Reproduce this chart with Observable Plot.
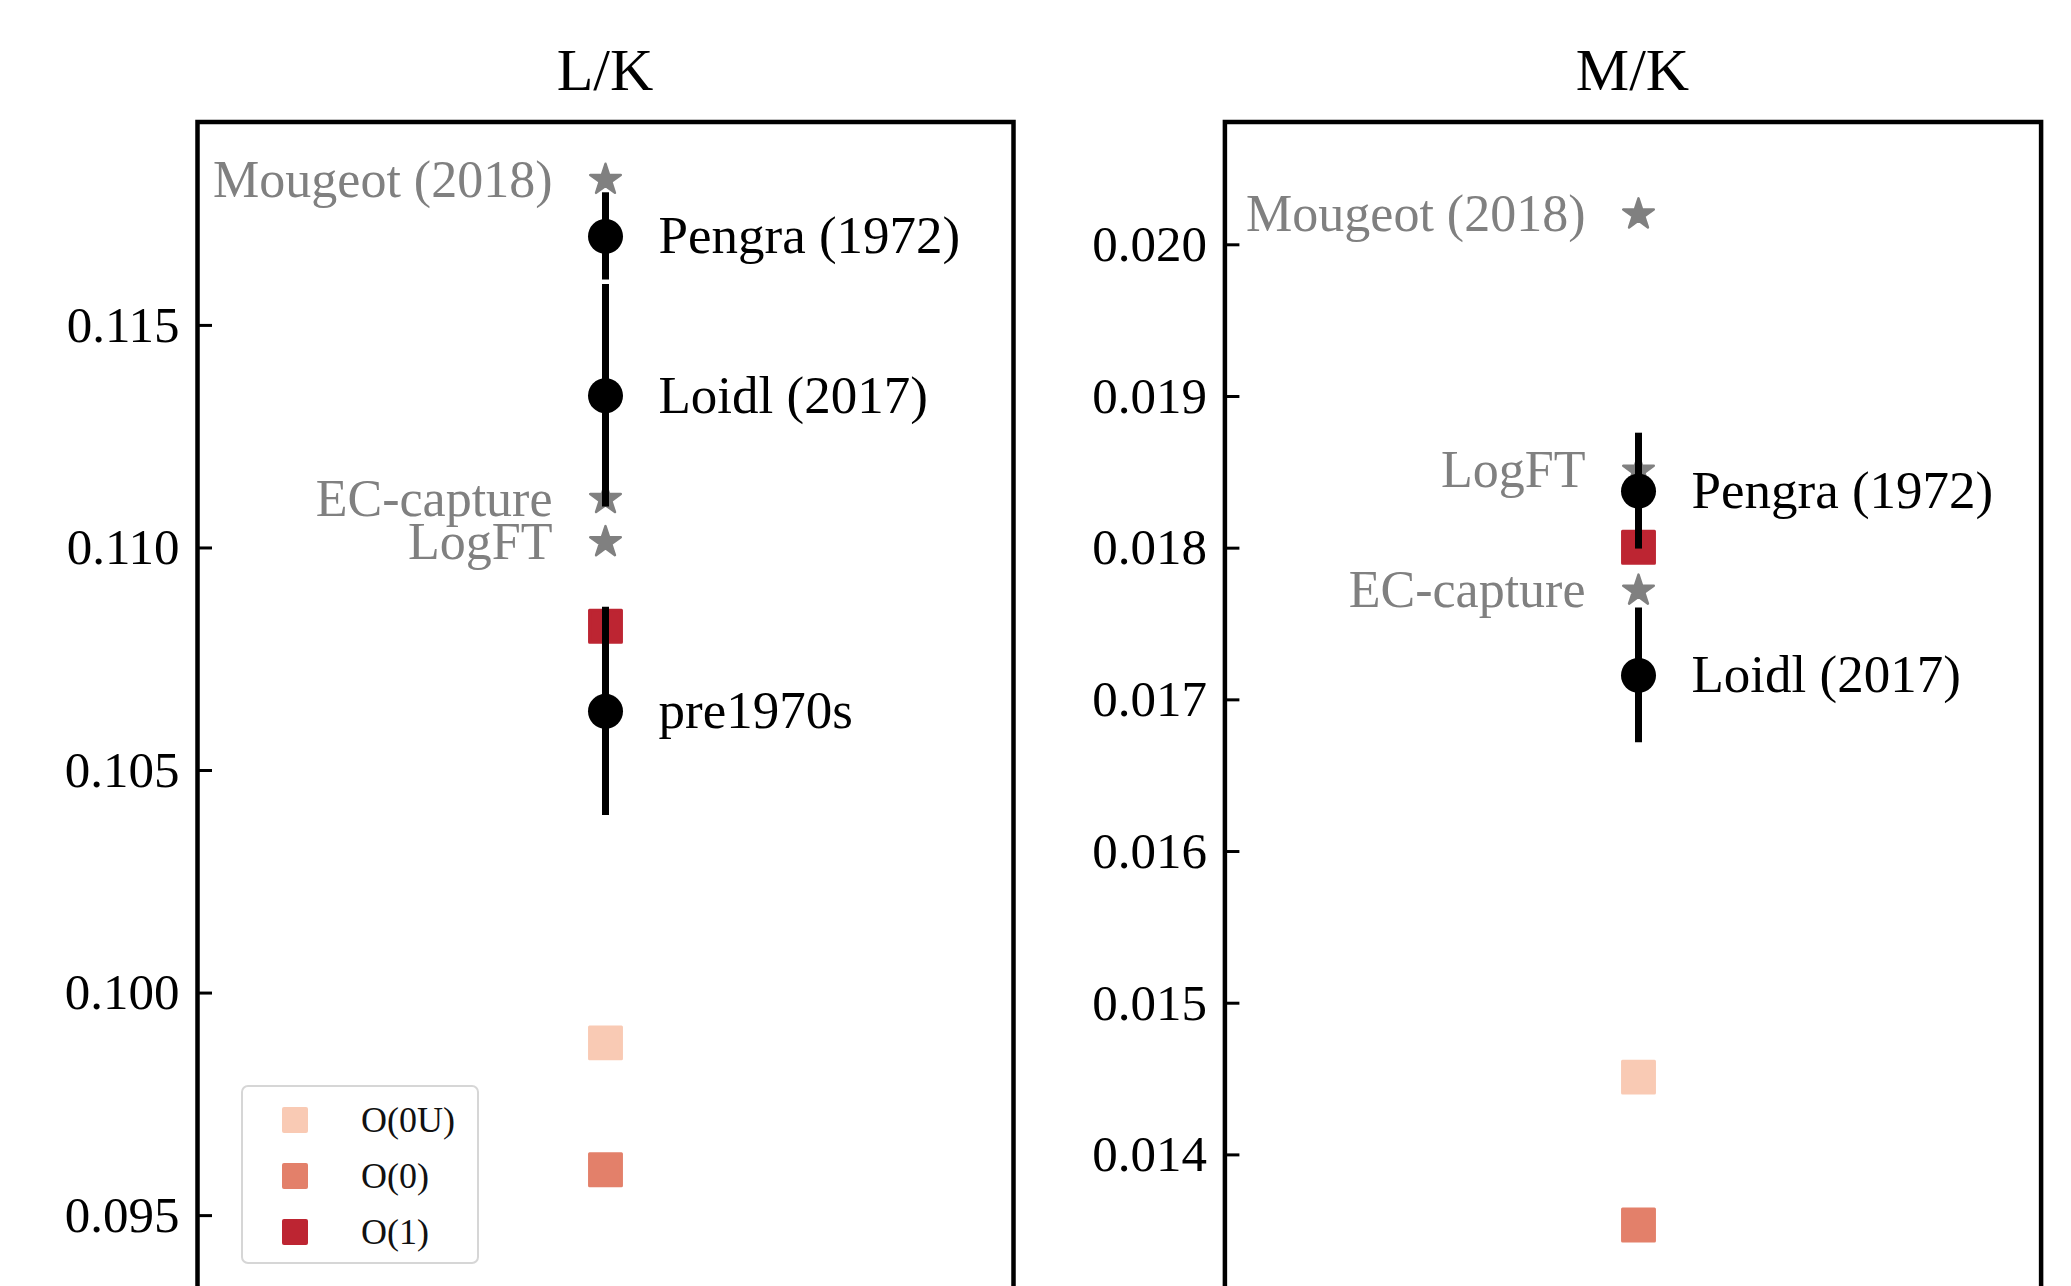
<!DOCTYPE html>
<html><head><meta charset="utf-8">
<script src="https://cdn.jsdelivr.net/npm/d3@7"></script>
<script src="https://cdn.jsdelivr.net/npm/@observablehq/plot@0.6"></script>
<style>
html,body{margin:0;padding:0;background:#fff;overflow:hidden}
#root{position:relative;width:2071px;height:1286px;overflow:hidden;font-family:"Liberation Serif",serif;background:#fff}
.panel{position:absolute;top:0}
.title{position:absolute;top:40px;height:60px;line-height:60px;font-size:60px;text-align:center;color:#000;white-space:nowrap}
.legend{position:absolute;left:241px;top:1085px;width:234px;height:175px;border:2px solid #d6d6d6;border-radius:7px;background:#fff}
.legend .row{position:absolute;left:0;height:40px;line-height:40px;font-size:36px;color:#111}
.legend .sw{position:absolute;left:39px;top:7px;width:26px;height:26px;border-radius:2px}
.legend .lab{position:absolute;left:118px;top:0;white-space:nowrap}
</style></head><body><div id="root"></div>
<script>
// shared categories
const orderNames = ["O(0U)", "O(0)", "O(1)"];
const orderColors = ["#f9cab4", "#e3806a", "#bd2532"];

// L/K panel
const lkOrderValues = [0.09888, 0.09603, 0.10824];
const lkMeasNames = ["Pengra (1972)", "Loidl (2017)", "pre1970s"];
const lkMeasValues = [0.11700, 0.11342, 0.10633];
const lkMeasErrors = [0.00098, 0.00250, 0.00234];
const lkTheoNames = ["Mougeot (2018)", "EC-capture", "LogFT"];
const lkTheoValues = [0.11827, 0.11110, 0.11013];
const lkTicks = [0.095, 0.100, 0.105, 0.110, 0.115];
const lkDomain = [0.091745, 0.119570];

// M/K panel
const mkOrderValues = [0.014513, 0.013538, 0.018006];
const mkMeasNames = ["Pengra (1972)", "Loidl (2017)"];
const mkMeasValues = [0.018376, 0.017161];
const mkMeasErrors = [0.000382, 0.000444];
const mkTheoNames = ["Mougeot (2018)", "LogFT", "EC-capture"];
const mkTheoValues = [0.02020, 0.01851, 0.01772];
const mkTicks = [0.014, 0.015, 0.016, 0.017, 0.018, 0.019, 0.020];
const mkDomain = [0.0126445, 0.0208096];

const root = document.getElementById("root");

function panel(cfg) {
  const key = cfg.title;
  const orders = orderNames.map((n, i) => ({panel: key, name: n, value: cfg.orderValues[i], color: orderColors[i]}));
  const meas = cfg.measNames.map((n, i) => ({panel: key, name: n, value: cfg.measValues[i], err: cfg.measErrors[i]}));
  const theo = cfg.theoNames.map((n, i) => ({panel: key, name: n, value: cfg.theoValues[i]}));
  const chart = Plot.plot({
    width: cfg.width, height: 1400,
    marginLeft: cfg.marginLeft, marginRight: cfg.marginRight, marginTop: 121.5, marginBottom: 40,
    x: {type: "point", domain: [key], axis: null, insetLeft: cfg.xInset},
    y: {domain: cfg.domain, axis: null},
    color: {type: "identity"},
    style: {fontFamily: "'Liberation Serif', serif", background: "transparent", overflow: "visible", maxWidth: "none"},
    marks: [
      Plot.dot(orders, {x: "panel", y: "value", symbol: "square", r: 18, fill: "color", stroke: "color", strokeWidth: 3, strokeLinejoin: "round"}),
      Plot.dot(theo, {x: "panel", y: "value", symbol: "star", r: 9.6, fill: "#808080", stroke: "#808080", strokeWidth: 2.5, strokeLinejoin: "round"}),
      Plot.ruleX(meas, {x: "panel", y1: d => d.value - d.err, y2: d => d.value + d.err, stroke: "#000", strokeWidth: 7}),
      Plot.dot(meas, {x: "panel", y: "value", r: 17.5, fill: "#000"}),
      Plot.text(meas, {x: "panel", y: "value", text: "name", dx: 53, textAnchor: "start", fontSize: 53, fill: "#000"}),
      Plot.text(theo, {x: "panel", y: "value", text: "name", dx: -53, textAnchor: "end", fontSize: 52, fill: "#808080"}),
      Plot.axisY({ticks: cfg.ticks, label: null, tickSize: -15, strokeWidth: 3, tickFormat: () => ""}),
      Plot.axisY({ticks: cfg.ticks, label: null, tickSize: 0, tickPadding: 18, tickFormat: d3.format(".3f"), fontSize: 51, fill: "#000"}),
      Plot.frame({strokeWidth: 4.5, stroke: "#000"})
    ]
  });
  const wrap = document.createElement("div");
  wrap.className = "panel";
  wrap.style.left = cfg.left + "px";
  wrap.appendChild(chart);
  root.appendChild(wrap);
  const t = document.createElement("div");
  t.className = "title";
  t.style.left = (cfg.left + cfg.marginLeft) + "px";
  t.style.width = (cfg.width - cfg.marginLeft - cfg.marginRight) + "px";
  t.textContent = cfg.title;
  root.appendChild(t);
}

panel({title: "L/K", orderValues: lkOrderValues, measNames: lkMeasNames, measValues: lkMeasValues, measErrors: lkMeasErrors,
  theoNames: lkTheoNames, theoValues: lkTheoValues, ticks: lkTicks, domain: lkDomain,
  left: 0, width: 1035, marginLeft: 197, marginRight: 22, xInset: 0});
panel({title: "M/K", orderValues: mkOrderValues, measNames: mkMeasNames, measValues: mkMeasValues, measErrors: mkMeasErrors,
  theoNames: mkTheoNames, theoValues: mkTheoValues, ticks: mkTicks, domain: mkDomain,
  left: 1035, width: 1036, marginLeft: 189.4, marginRight: 30.4, xInset: 10.6});

// legend
const legend = document.createElement("div");
legend.className = "legend";
const rowTops = [12.7, 69, 125];
orderNames.forEach((n, i) => {
  const row = document.createElement("div");
  row.className = "row";
  row.style.top = rowTops[i] + "px";
  const sw = document.createElement("div");
  sw.className = "sw";
  sw.style.background = orderColors[i];
  const lab = document.createElement("div");
  lab.className = "lab";
  lab.textContent = n;
  row.appendChild(sw); row.appendChild(lab);
  legend.appendChild(row);
});
root.appendChild(legend);
</script>
</body></html>
